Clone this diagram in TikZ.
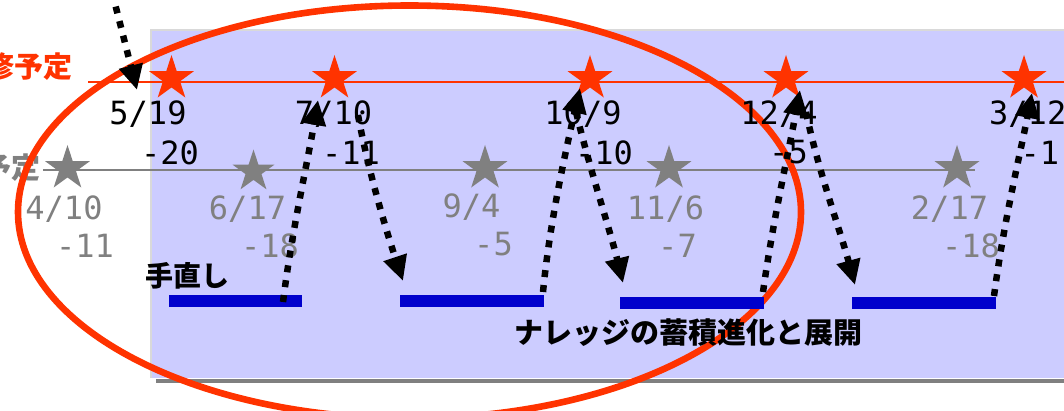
\documentclass[tikz,border=0pt]{standalone}
\usepackage{fontspec}
\newfontfamily\jp{Noto Sans CJK JP}
\newfontfamily\mono{DejaVu Sans Mono}
\usetikzlibrary{shapes.geometric,arrows.meta}
\definecolor{lav}{HTML}{CCCCFF}
\definecolor{redo}{HTML}{FF3300}
\definecolor{grayt}{HTML}{808080}
\definecolor{barb}{HTML}{0000CC}
\begin{document}
\begin{tikzpicture}[x=1pt,y=-1pt,
  redstar/.style={star,star points=5,star point ratio=2.618,fill=redo,draw=none,minimum size=47pt,inner sep=0pt},
  graystar/.style={redstar,fill=grayt},
  blab/.style={font=\mono\fontsize{32}{32}\selectfont,inner sep=0pt,text=black},
  glab/.style={blab,text=grayt},
  barbox/.style={fill=barb,draw=none,minimum height=12pt,inner sep=0pt},
  dotarrow/.style={line width=6.5pt,dash pattern=on 7pt off 8pt,-{Triangle[length=25pt,width=23pt]}},
  jtext/.style={font=\jp\bfseries\fontsize{29}{29}\selectfont,inner sep=0pt}
]
\useasboundingbox (0,0) rectangle (1064,411);
% background panel
\fill[lav] (151,30) rectangle (1070,378);
\draw[black!15,line width=1.5pt] (151,378) -- (151,30) -- (1070,30);
\fill[grayt] (156,378.5) rectangle (1070,383);
% schedule lines
\draw[redo,line width=1.6pt] (88,82) -- (1070,82);
\draw[grayt,line width=2pt] (43,170) -- (975,170);
% side labels
\node[jtext,text=redo,anchor=east] (redlab) at (73,67) {修予定};
\node[jtext,text=grayt,anchor=east] (graylab) at (41,168) {予定};
% ellipse
\draw[redo,line width=6.6pt] (409.5,212) ellipse [x radius=391.5, y radius=206.5];
% red stars
\node[redstar] (r1) at (171.5,78.5) {};
\node[redstar] (r2) at (334.5,78.5) {};
\node[redstar] (r3) at (590,78.5) {};
\node[redstar] (r4) at (786,78.5) {};
\node[redstar] (r5) at (1024,78.5) {};
% gray stars
\node[graystar] (g1) at (67.5,168.5) {};
\node[graystar,minimum size=44pt] (g2) at (253.5,171.5) {};
\node[graystar] (g3) at (485,168.5) {};
\node[graystar] (g4) at (669,168.5) {};
\node[graystar] (g5) at (957,168.5) {};
% red-line date labels
\node[blab] (l1a) at (148,114) {5/19};
\node[blab] (l1b) at (170,152.5) {-20};
\node[blab] (l2a) at (333.5,114) {7/10};
\node[blab] (l2b) at (351,152.5) {-11};
\node[blab] (l3a) at (583,114) {10/9};
\node[blab] (l3b) at (604,152.5) {-10};
\node[blab] (l4a) at (779,114) {12/4};
\node[blab] (l4b) at (788.5,152.5) {-5};
\node[blab,anchor=west] (l5a) at (989,114) {3/12};
\node[blab,anchor=west] (l5b) at (1020.5,152.5) {-1};
% gray-line date labels
\node[glab] (m1a) at (64,209) {4/10};
\node[glab] (m1b) at (85,246) {-11};
\node[glab] (m2a) at (247.5,209) {6/17};
\node[glab] (m2b) at (270,246) {-18};
\node[glab] (m3a) at (471.5,207) {9/4};
\node[glab] (m3b) at (493.5,244) {-5};
\node[glab] (m4a) at (665.5,209) {11/6};
\node[glab] (m4b) at (677.5,246) {-7};
\node[glab] (m5a) at (949.5,209) {2/17};
\node[glab] (m5b) at (971,246) {-18};
% bars
\node[barbox,minimum width=133pt] (b1) at (235.5,300.5) {};
\node[barbox,minimum width=144pt] (b2) at (472,300.5) {};
\node[barbox,minimum width=144pt] (b3) at (692,303) {};
\node[barbox,minimum width=144pt] (b4) at (924,303) {};
% texts
\node[jtext,font=\jp\bfseries\fontsize{28}{28}\selectfont] (tenaoshi) at (187.5,276) {手直し};
\node[jtext] (knowledge) at (688,333) {ナレッジの蓄積進化と展開};
% arrow end points
\coordinate (a0) at (112,-8);
\coordinate (a1) at (137,90);
\coordinate (p1) at (283,302);
\coordinate (t2) at (318,100);
\coordinate (s2) at (358,115);
\coordinate (e2) at (403,281);
\coordinate (p2) at (543,292);
\coordinate (t3) at (580,88);
\coordinate (s3) at (576,112);
\coordinate (e3) at (623,283);
\coordinate (p3) at (763,292);
\coordinate (t4) at (800,90);
\coordinate (s4) at (806,112);
\coordinate (e4) at (855,285);
\coordinate (p4) at (994,296);
\coordinate (t5) at (1032,93);
% dotted arrows
\draw[dotarrow] (a0) -- (a1);
\draw[dotarrow] (p1) .. controls (292,230) and (308,160) .. (t2);
\draw[dotarrow] (s2) .. controls (368,170) and (386,230) .. (e2);
\draw[dotarrow] (p2) .. controls (550,220) and (566,150) .. (t3);
\draw[dotarrow] (s3) .. controls (590,170) and (610,230) .. (e3);
\draw[dotarrow] (p3) .. controls (773,220) and (789,150) .. (t4);
\draw[dotarrow] (s4) .. controls (818,170) and (840,230) .. (e4);
\draw[dotarrow] (p4) .. controls (1004,220) and (1021,150) .. (t5);
\end{tikzpicture}
\end{document}
